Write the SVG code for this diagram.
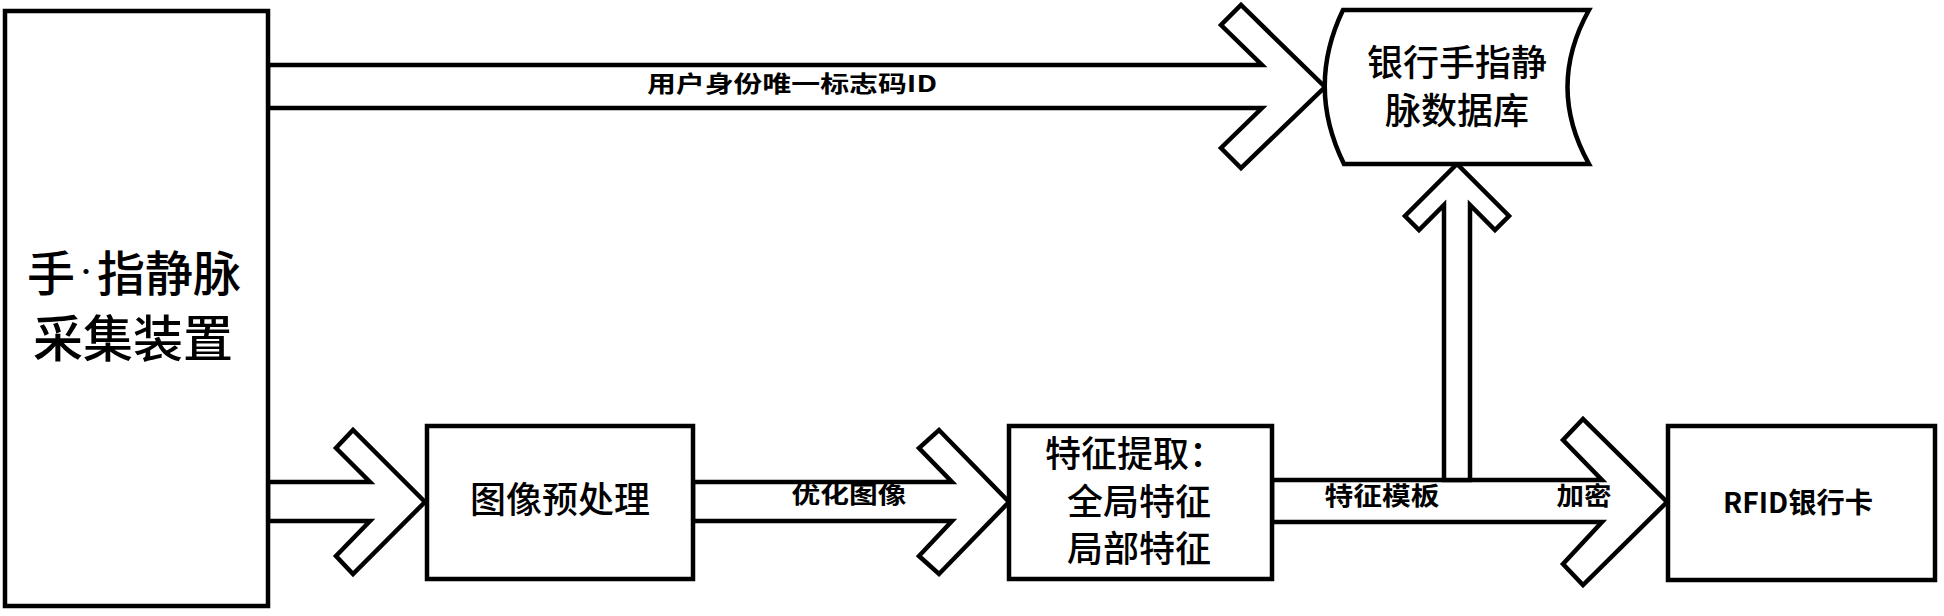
<svg xmlns="http://www.w3.org/2000/svg" width="1944" height="616" viewBox="0 0 1944 616">
<style>
.box{fill:#fff;stroke:#000;stroke-width:4.5;stroke-linejoin:miter}
.arr{fill:#fff;stroke:#000;stroke-width:4.5;stroke-linejoin:miter}
.nt{font-family:"Noto Sans CJK SC","Noto Sans CJK JP",sans-serif;font-size:36px;font-weight:500;fill:#000;text-anchor:middle}
.big{font-size:50px}
.lbl{font-family:"Noto Sans CJK SC","Noto Sans CJK JP",sans-serif;font-size:23px;font-weight:bold;fill:#000;text-anchor:middle}
</style>
<rect width="1944" height="616" fill="#fff"/>
<g id="connectors">
  <polygon class="arr" points="268,65 1262,65 1221,25 1241,5 1325,87 1241,168 1221,148 1262,108 268,108"/>
  <text class="lbl" x="792" y="92" textLength="290" lengthAdjust="spacingAndGlyphs">用户身份唯一标志码ID</text>
  <polygon class="arr" points="268,482 370,482 336,448 353,430 425,502 353,574 336,556 370,521 268,521"/>
  <polygon class="arr" points="693,482 952,482 919,448 939,430 1009,502 939,574 919,556 952,521 693,521"/>
  <text class="lbl" x="849" y="503" textLength="115" lengthAdjust="spacingAndGlyphs">优化图像</text>
  <polygon class="arr" points="1272,480 1602,480 1563,440 1583,419 1667,502 1583,585 1563,564 1602,522 1272,522"/>
  <polygon class="arr" points="1444,480 1444,205 1419,230 1405,216 1457,164 1509,216 1495,230 1470,205 1470,480"/>
  <text class="lbl" style="font-size:25px" x="1382" y="505" textLength="115" lengthAdjust="spacingAndGlyphs">特征模板</text>
  <text class="lbl" style="font-size:25px" x="1584" y="505" textLength="55" lengthAdjust="spacingAndGlyphs">加密</text>
</g>
<g id="node-collector">
  <rect class="box" x="5" y="11" width="263" height="595"/>
  <text class="nt" style="font-size:48px" x="134" y="291">手<tspan style="font-size:22px" dy="-12">·</tspan><tspan dy="12">指静脉</tspan></text>
  <text class="nt big" x="133" y="357">采集装置</text>
</g>
<g id="node-database">
  <path class="box" d="M1343,10 L1589,10 Q1546,87 1589,164 L1344,164 Q1306,87 1343,10 Z"/>
  <text class="nt" x="1457" y="76">银行手指静</text>
  <text class="nt" x="1457" y="124">脉数据库</text>
</g>
<g id="node-preprocess">
  <rect class="box" x="427" y="426" width="266" height="153"/>
  <text class="nt" x="560" y="513">图像预处理</text>
</g>
<g id="node-feature">
  <rect class="box" x="1009" y="426" width="263" height="153"/>
  <text class="nt" style="text-anchor:start" x="1045" y="467">特征提取：</text>
  <text class="nt" x="1139" y="515">全局特征</text>
  <text class="nt" x="1139" y="562">局部特征</text>
</g>
<g id="node-rfid">
  <rect class="box" x="1668" y="426" width="267" height="154"/>
  <text class="lbl" style="font-size:28px" x="1798" y="513" textLength="150" lengthAdjust="spacingAndGlyphs">RFID银行卡</text>
</g>
</svg>
